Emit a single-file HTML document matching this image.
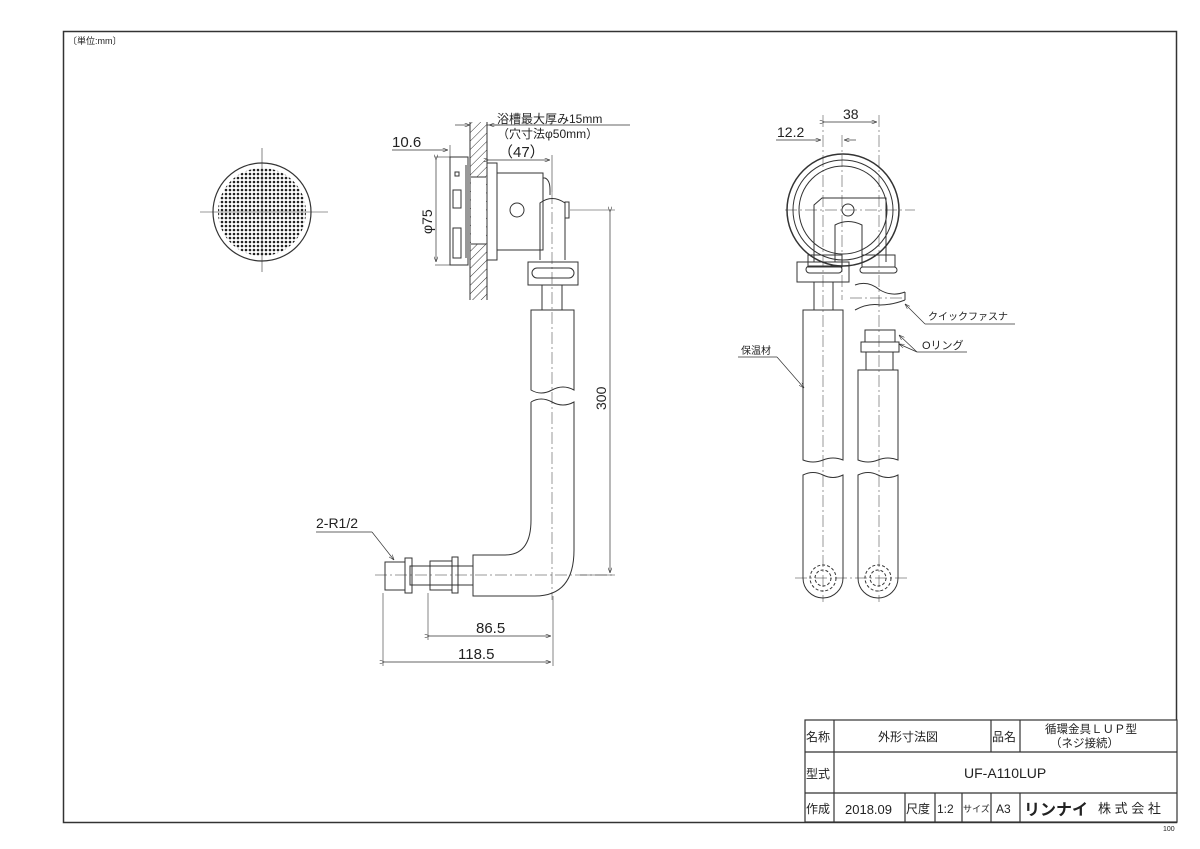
<!DOCTYPE html>
<html><head><meta charset="utf-8"><style>
html,body{margin:0;padding:0;background:#fff;}
svg{display:block;}
text{font-family:"Liberation Sans","Noto Sans CJK JP",sans-serif;fill:#222;}
</style></head><body>
<svg width="1200" height="849" viewBox="0 0 1200 849" xmlns="http://www.w3.org/2000/svg">
<defs>
<pattern id="dots" width="4" height="4" patternUnits="userSpaceOnUse"><circle cx="2" cy="2" r="1.3" fill="#222"/></pattern>
<pattern id="hatch" width="6" height="6" patternUnits="userSpaceOnUse" patternTransform="rotate(45)"><line x1="0" y1="0" x2="0" y2="6" stroke="#333" stroke-width="1"/></pattern>
<marker id="ar" markerWidth="8" markerHeight="6" refX="8" refY="3" orient="auto"><path d="M0,0 L8,3 L0,6" fill="none" stroke="#333" stroke-width="0.8"/></marker>
</defs>
<g fill="none" stroke="#333" stroke-width="1">
<rect x="63.5" y="31.5" width="1113" height="791" stroke-width="1.5"/>
<circle cx="262" cy="212" r="49" stroke-width="1.2"/>
<circle cx="262" cy="212" r="44" fill="url(#dots)" stroke="none"/>
<line x1="200" y1="212" x2="328" y2="212" stroke-width="0.6"/>
<line x1="262" y1="148" x2="262" y2="272" stroke-width="0.6"/>

<rect x="470" y="122" width="17" height="178" fill="url(#hatch)" stroke="none"/>
<line x1="470" y1="122" x2="470" y2="300"/><line x1="487" y1="122" x2="487" y2="300"/>
<rect x="471" y="177" width="15" height="67" fill="#fff" stroke="none"/>
<line x1="471" y1="177" x2="486" y2="177"/><line x1="471" y1="244" x2="486" y2="244"/>
<rect x="450" y="157" width="18" height="108"/>
<rect x="455" y="172" width="4" height="4"/>
<rect x="453" y="190" width="8" height="18"/>
<rect x="453" y="228" width="8" height="30"/>
<line x1="466" y1="165" x2="466" y2="258"/>
<rect x="487" y="163" width="10" height="97"/>
<rect x="497" y="173" width="46" height="77"/>
<circle cx="517" cy="210" r="7"/>
<path d="M543,178 L545,178 Q550,180 550,190 L550,195"/>
<path d="M540,260 L540,203 Q552,194 565,203 L565,260"/>
<rect x="565" y="202" width="4" height="16"/>
<line x1="552" y1="192" x2="552" y2="600" stroke-width="0.5" stroke-dasharray="12,3,2,3"/>
<rect x="528" y="262" width="50" height="23"/>
<rect x="532" y="268" width="42" height="10" rx="5"/>
<line x1="542" y1="285" x2="542" y2="310"/><line x1="562" y1="285" x2="562" y2="310"/>
<path d="M531,310 L574,310 L574,390 Q563,384 552,390 Q541,396 531,390 Z"/>
<path d="M531,402 Q541,396 552,402 Q563,408 574,402 L574,495"/>
<line x1="531" y1="402" x2="531" y2="520"/>
<path d="M531,520 Q531,555 505,555 L473,555 L473,596 L535,596 Q574,596 574,550 L574,495"/>
<rect x="410" y="566" width="63" height="19"/>
<rect x="430" y="561" width="22" height="29"/>
<rect x="452" y="557" width="6" height="36"/>
<rect x="385" y="562" width="20" height="28"/>
<rect x="405" y="558" width="7" height="35"/>
<line x1="375" y1="575" x2="612" y2="575" stroke-width="0.5" stroke-dasharray="12,3,2,3"/>
<line x1="435" y1="157" x2="450" y2="157" stroke-width="0.6"/><line x1="435" y1="265" x2="450" y2="265" stroke-width="0.6"/>
<line x1="436" y1="160" x2="436" y2="262" stroke-width="0.7" marker-start="url(#ar)" marker-end="url(#ar)"/>
<line x1="392" y1="150" x2="448" y2="150" stroke-width="0.7" marker-end="url(#ar)"/>
<line x1="450" y1="145" x2="450" y2="157" stroke-width="0.6"/>
<line x1="455" y1="125" x2="470" y2="125" stroke-width="0.7" marker-end="url(#ar)"/>
<line x1="487" y1="125" x2="630" y2="125" stroke-width="0.7"/>
<line x1="500" y1="125" x2="489" y2="125" stroke-width="0.7" marker-end="url(#ar)"/>
<line x1="489" y1="160" x2="550" y2="160" stroke-width="0.7" marker-start="url(#ar)" marker-end="url(#ar)"/>
<line x1="552" y1="155" x2="552" y2="192" stroke-width="0.6"/>
<line x1="570" y1="210" x2="615" y2="210" stroke-width="0.6"/>
<line x1="580" y1="575" x2="615" y2="575" stroke-width="0.6"/>
<line x1="610" y1="212" x2="610" y2="573" stroke-width="0.7" marker-start="url(#ar)" marker-end="url(#ar)"/>
<line x1="428" y1="593" x2="428" y2="640" stroke-width="0.6"/>
<line x1="383" y1="593" x2="383" y2="666" stroke-width="0.6"/>
<line x1="553" y1="596" x2="553" y2="666" stroke-width="0.6"/>
<line x1="430" y1="636" x2="551" y2="636" stroke-width="0.7" marker-start="url(#ar)" marker-end="url(#ar)"/>
<line x1="385" y1="662" x2="551" y2="662" stroke-width="0.7" marker-start="url(#ar)" marker-end="url(#ar)"/>
<line x1="316" y1="532" x2="372" y2="532" stroke-width="0.7"/>
<line x1="372" y1="532" x2="394" y2="560" stroke-width="0.7" marker-end="url(#ar)"/>

<circle cx="843" cy="210" r="56" stroke-width="1.5"/>
<circle cx="843" cy="210" r="50"/>
<circle cx="843" cy="210" r="44"/>
<circle cx="848" cy="210" r="6"/>
<path d="M814,262 L814,205 L822,198 L886,198 L886,262"/>
<path d="M835,262 L835,225 Q848,218 862,225 L862,262"/>
<rect x="808" y="255" width="34" height="12"/><rect x="862" y="255" width="33" height="12"/>
<rect x="797" y="262" width="52" height="20"/>
<rect x="806" y="266" width="36" height="7" rx="3.5"/>
<rect x="860" y="267" width="37" height="6" rx="3"/>
<line x1="814" y1="282" x2="814" y2="310"/><line x1="833" y1="282" x2="833" y2="310"/>
<path d="M855,285 Q868,280 880,290 Q892,297 905,292 M855,310 Q868,303 880,305 Q892,305 905,300 M905,292 L905,300"/>
<rect x="865" y="330" width="30" height="12"/>
<rect x="861" y="342" width="38" height="10"/>
<line x1="866" y1="352" x2="866" y2="370"/><line x1="893" y1="352" x2="893" y2="370"/>
<path d="M803,310 L843,310 L843,460 Q833,456 823,460 Q813,464 803,460 Z"/>
<path d="M803,475 Q813,470 823,475 Q833,480 843,475 L843,578 A20,20 0 0 1 803,578 Z"/>
<path d="M858,370 L898,370 L898,460 Q888,456 878,460 Q868,464 858,460 Z"/>
<path d="M858,475 Q868,470 878,475 Q888,480 898,475 L898,578 A20,20 0 0 1 858,578 Z"/>
<circle cx="823" cy="578" r="13" stroke-dasharray="3,2"/><circle cx="823" cy="578" r="8" stroke-dasharray="3,2"/>
<circle cx="878" cy="578" r="13" stroke-dasharray="3,2"/><circle cx="878" cy="578" r="8" stroke-dasharray="3,2"/>
<g stroke-width="0.5" stroke-dasharray="12,3,2,3">
<line x1="823" y1="115" x2="823" y2="602"/><line x1="842" y1="135" x2="842" y2="300"/>
<line x1="879" y1="115" x2="879" y2="602"/><line x1="785" y1="210" x2="915" y2="210"/>
<line x1="795" y1="578" x2="907" y2="578"/><line x1="850" y1="298" x2="905" y2="298"/>
</g>
<line x1="825" y1="122" x2="877" y2="122" stroke-width="0.7" marker-start="url(#ar)" marker-end="url(#ar)"/>
<line x1="776" y1="140" x2="821" y2="140" stroke-width="0.7" marker-end="url(#ar)"/>
<line x1="856" y1="140" x2="844" y2="140" stroke-width="0.7" marker-end="url(#ar)"/>
<line x1="1015" y1="324" x2="925" y2="324" stroke-width="0.7"/>
<line x1="925" y1="324" x2="905" y2="304" stroke-width="0.7" marker-end="url(#ar)"/>
<line x1="967" y1="352" x2="917" y2="352" stroke-width="0.7"/>
<line x1="917" y1="352" x2="899" y2="335" stroke-width="0.7" marker-end="url(#ar)"/>
<line x1="917" y1="352" x2="899" y2="344" stroke-width="0.7" marker-end="url(#ar)"/>
<line x1="738" y1="357" x2="777" y2="357" stroke-width="0.7"/>
<line x1="777" y1="357" x2="804" y2="388" stroke-width="0.7" marker-end="url(#ar)"/>

<g stroke-width="1.2">
<rect x="805" y="720" width="372" height="102" fill="#fff"/>
<line x1="805" y1="752" x2="1177" y2="752"/><line x1="805" y1="793" x2="1177" y2="793"/>
<line x1="834" y1="720" x2="834" y2="822"/>
<line x1="991" y1="720" x2="991" y2="752"/><line x1="1020" y1="720" x2="1020" y2="752"/>
<line x1="905" y1="793" x2="905" y2="822"/><line x1="935" y1="793" x2="935" y2="822"/>
<line x1="962" y1="793" x2="962" y2="822"/><line x1="991" y1="793" x2="991" y2="822"/>
<line x1="1020" y1="793" x2="1020" y2="822"/>
</g>
</g>
<text x="68" y="44" font-size="9">〔単位:mm〕</text>
<text x="497" y="123" font-size="12">浴槽最大厚み15mm</text>
<text x="497" y="138" font-size="12">（穴寸法φ50mm）</text>
<text x="392" y="147" font-size="15">10.6</text>
<text x="498" y="157" font-size="15">（47）</text>
<text x="0" y="0" font-size="14" transform="translate(432,234) rotate(-90)">φ75</text>
<text x="0" y="0" font-size="14" transform="translate(606,410) rotate(-90)">300</text>
<text x="316" y="528" font-size="14">2-R1/2</text>
<text x="476" y="633" font-size="15">86.5</text>
<text x="458" y="659" font-size="15">118.5</text>
<text x="843" y="119" font-size="14">38</text>
<text x="777" y="137" font-size="14">12.2</text>
<text x="928" y="320" font-size="10">クイックファスナ</text>
<text x="922" y="349" font-size="11">Oリング</text>
<text x="741" y="354" font-size="10">保温材</text>
<text x="806" y="741" font-size="12">名称</text>
<text x="878" y="741" font-size="12">外形寸法図</text>
<text x="992" y="741" font-size="12">品名</text>
<text x="1045" y="733" font-size="11.5">循環金具ＬＵＰ型</text>
<text x="1050" y="747" font-size="11.5">（ネジ接続）</text>
<text x="806" y="778" font-size="12">型式</text>
<text x="964" y="778" font-size="14">UF-A110LUP</text>
<text x="806" y="813" font-size="12">作成</text>
<text x="845" y="814" font-size="13">2018.09</text>
<text x="906" y="813" font-size="12">尺度</text>
<text x="937" y="813" font-size="12">1:2</text>
<text x="963" y="812" font-size="9">サイズ</text>
<text x="996" y="813" font-size="12">A3</text>
<text x="1024" y="815" font-size="16" font-weight="bold">リンナイ</text>
<text x="1098" y="813" font-size="13">株 式 会 社</text>
<text x="1163" y="831" font-size="7" fill="#666">100</text>
</svg>
</body></html>
